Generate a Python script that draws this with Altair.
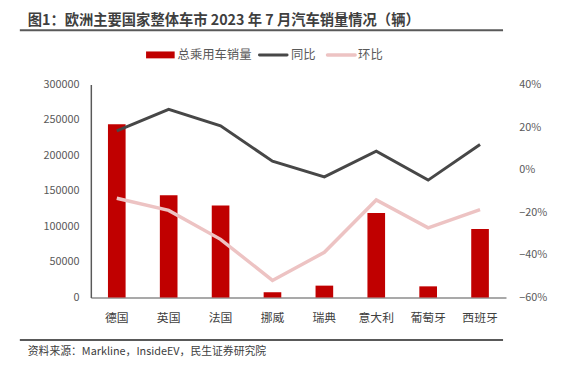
import altair as alt
import pandas as pd

countries = ["德国", "英国", "法国", "挪威", "瑞典", "意大利", "葡萄牙", "西班牙"]
sales = [244000, 144000, 129600, 7400, 16700, 119000, 15700, 96300]
yoy = [0.182, 0.283, 0.206, 0.040, -0.034, 0.087, -0.049, 0.118]
mom = [-0.134, -0.191, -0.327, -0.520, -0.388, -0.142, -0.273, -0.188]

title_text = "图1：欧洲主要国家整体车市 2023 年 7 月汽车销量情况（辆）"
source_text = "资料来源：Markline，InsideEV，民生证券研究院"
legend_labels = ["总乘用车销量", "同比", "环比"]
colors = ["#C00000", "#474747", "#EDC3C3"]

FONT = "Noto Sans CJK SC"

df = pd.DataFrame({"country": countries, "sales": sales, "yoy": yoy, "mom": mom})
base = alt.Chart(df)

xenc = alt.X("country:N", sort=countries, title=None,
             scale=alt.Scale(paddingInner=0.66, paddingOuter=0.33),
             axis=alt.Axis(labelAngle=0, ticks=False, domainColor="#8C8C8C", domainWidth=1.5,
                           labelColor="#404040", labelFontSize=12, labelPadding=15, labelFont=FONT))

bars = base.mark_bar(color=colors[0]).encode(
    x=xenc,
    y=alt.Y("sales:Q", title=None,
            scale=alt.Scale(domain=[0, 300000], nice=False),
            axis=alt.Axis(values=[0, 50000, 100000, 150000, 200000, 250000, 300000], format="d",
                          grid=False, ticks=False, domainColor="#595959", domainWidth=1.5,
                          labelColor="#595959", labelFontSize=11, labelPadding=12, labelFont=FONT)),
)

pct_scale = alt.Scale(domain=[-0.6, 0.4], nice=False)
pct_axis = alt.Axis(orient="right", values=[-0.6, -0.4, -0.2, 0, 0.2, 0.4], format=".0%",
                    grid=False, ticks=False, domain=False,
                    labelColor="#595959", labelFontSize=11, labelPadding=13, labelFont=FONT)

line_yoy = base.mark_line(color=colors[1], strokeWidth=3).encode(
    x=alt.X("country:N", sort=countries),
    y=alt.Y("yoy:Q", title=None, scale=pct_scale, axis=pct_axis),
)
line_mom = base.mark_line(color=colors[2], strokeWidth=3.5).encode(
    x=alt.X("country:N", sort=countries),
    y=alt.Y("mom:Q", title=None, scale=pct_scale, axis=None),
)

one = pd.DataFrame({"a": [0]})
deco_base = alt.Chart(one)

# plot origin is at page (92, 83)
title_mark = deco_base.mark_text(text=title_text, font=FONT, fontSize=14.5, fontWeight="bold",
                                 color="#3F3F3F", align="left", baseline="middle").encode(
    x=alt.value(-64), y=alt.value(-64))
title_rule = deco_base.mark_rule(color="#595959", strokeWidth=2).encode(
    x=alt.value(-72), x2=alt.value(418), y=alt.value(-55))
foot_rule = deco_base.mark_rule(color="#595959", strokeWidth=2).encode(
    x=alt.value(-72), x2=alt.value(418), y=alt.value(259))
foot_text = deco_base.mark_text(text=source_text, font=FONT, fontSize=11,
                                color="#404040", align="left", baseline="middle").encode(
    x=alt.value(-64), y=alt.value(271))

leg_y = -30
leg_rect = deco_base.mark_rect(color=colors[0]).encode(
    x=alt.value(56), x2=alt.value(85), y=alt.value(leg_y - 3.5), y2=alt.value(leg_y + 3.5))
leg_l1 = deco_base.mark_rule(color=colors[1], strokeWidth=3, strokeCap="round").encode(
    x=alt.value(171), x2=alt.value(199), y=alt.value(leg_y))
leg_l2 = deco_base.mark_rule(color=colors[2], strokeWidth=3.5, strokeCap="round").encode(
    x=alt.value(240), x2=alt.value(268), y=alt.value(leg_y))
leg_t = []
for lab, xx in zip(legend_labels, [88, 203, 271]):
    leg_t.append(deco_base.mark_text(text=lab, font=FONT, fontSize=12.5, color="#595959",
                                     align="left", baseline="middle").encode(
        x=alt.value(xx), y=alt.value(leg_y)))

chart = alt.layer(
    bars, line_yoy, line_mom,
    title_mark, title_rule, foot_rule, foot_text,
    leg_rect, leg_l1, leg_l2, *leg_t,
).resolve_scale(y="independent").properties(
    width=421, height=216,
    autosize=alt.AutoSizeParams(type="none"),
    padding={"left": 84, "top": 75, "right": 72, "bottom": 74},
    background="white",
).configure_view(stroke=None)

chart.save("out.html", embed_options={"renderer": "svg", "actions": False})
